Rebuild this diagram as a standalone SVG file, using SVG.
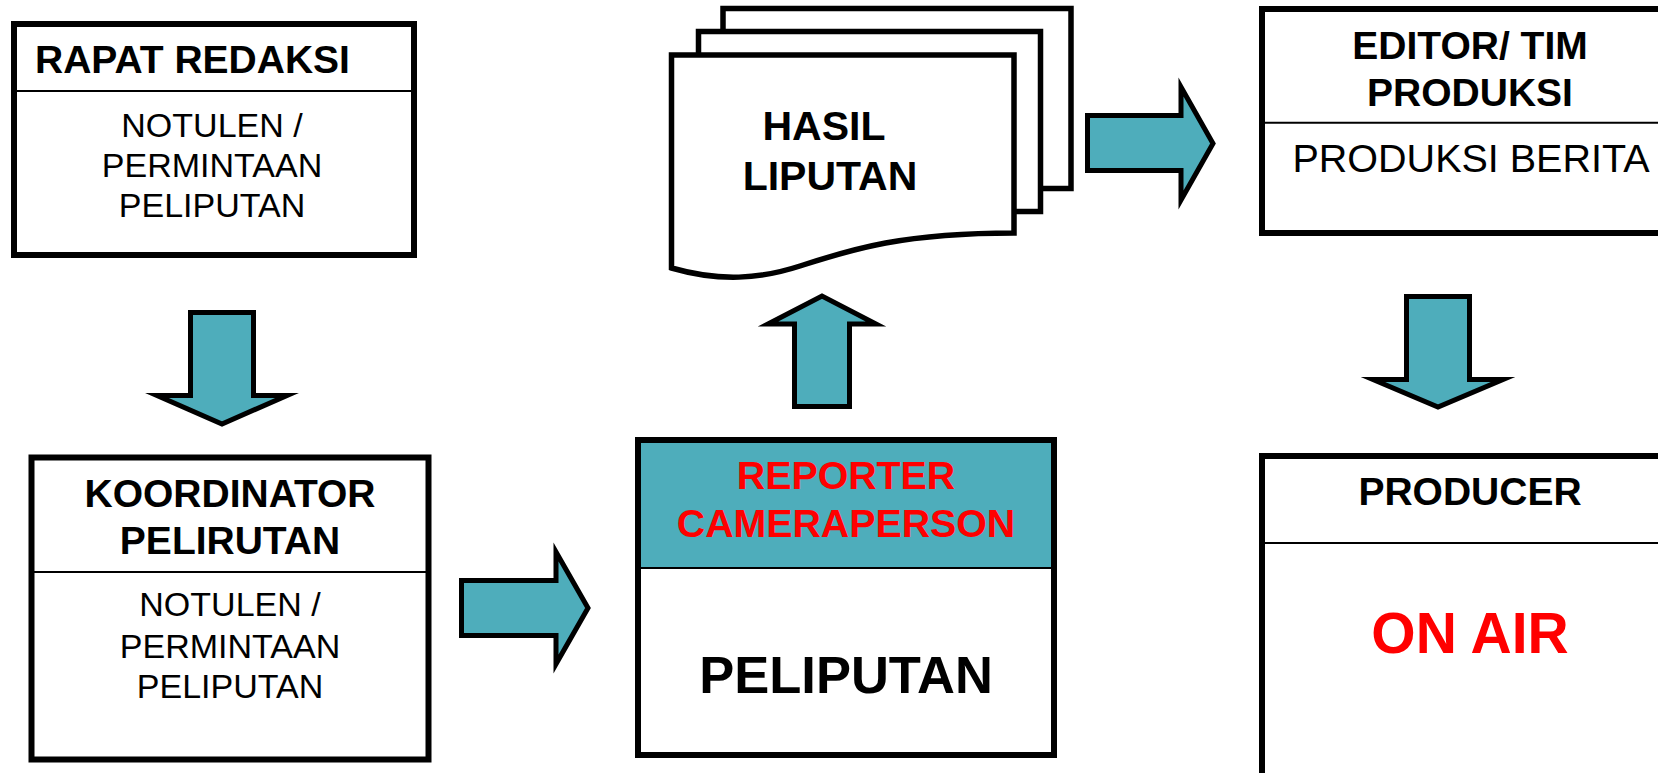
<svg xmlns="http://www.w3.org/2000/svg" width="1658" height="773" viewBox="0 0 1658 773">
<style>
.box{fill:#fff;stroke:#000;stroke-width:6}
.div{stroke:#000;stroke-width:2}
.arrow{fill:#4EADBB;stroke:#000;stroke-width:5;stroke-miterlimit:10}
.doc{fill:#fff;stroke:#000;stroke-width:5.5;stroke-linejoin:miter}
.b{font-family:"Liberation Sans",Arial,sans-serif;font-weight:bold;fill:#000}
.r{font-family:"Liberation Sans",Arial,sans-serif;fill:#000}
.red{fill:#FF0000}
</style>
<rect width="1658" height="773" fill="#fff"/>
<g id="connectors">
<path class="arrow" d="M190.5,312.5 H253.5 V395.5 H287 L222,424 L157,395.5 H190.5 Z"/>
<path class="arrow" d="M461.5,580.5 H556 V552 L588,608 L556,664 V635.5 H461.5 Z"/>
<path class="arrow" d="M794.5,406.5 V324 H768 L822,296 L876,324 H849.5 V406.5 Z"/>
<path class="arrow" d="M1087.5,115.5 H1181 V87 L1213,143.5 L1181,200 V170.5 H1087.5 Z"/>
<path class="arrow" d="M1406.5,296.5 H1469.5 V379.5 H1503 L1438,407 L1373,379.5 H1406.5 Z"/>
</g>
<g id="rapat-redaksi">
<rect class="box" x="14" y="24" width="400" height="231"/>
<line class="div" x1="17" y1="91" x2="411" y2="91"/>
<text class="b" x="35" y="73" font-size="39">RAPAT REDAKSI</text>
<text class="r" font-size="34" text-anchor="middle"><tspan x="212" y="137">NOTULEN /</tspan><tspan x="212" y="177">PERMINTAAN</tspan><tspan x="212" y="217">PELIPUTAN</tspan></text>
</g>
<g id="koordinator">
<rect class="box" x="31.5" y="457.5" width="397" height="302"/>
<line class="div" x1="34" y1="572" x2="426" y2="572"/>
<text class="b" font-size="39" text-anchor="middle"><tspan x="230" y="507">KOORDINATOR</tspan><tspan x="230" y="554">PELIRUTAN</tspan></text>
<text class="r" font-size="34" text-anchor="middle"><tspan x="230" y="616">NOTULEN /</tspan><tspan x="230" y="658">PERMINTAAN</tspan><tspan x="230" y="698">PELIPUTAN</tspan></text>
</g>
<g id="reporter">
<rect class="box" x="638" y="440" width="416" height="315"/>
<rect x="641" y="443" width="410" height="125" fill="#4EADBB"/>
<line class="div" x1="641" y1="568" x2="1051" y2="568"/>
<text class="b red" font-size="39.3" text-anchor="middle"><tspan x="846" y="489">REPORTER</tspan><tspan x="846" y="537">CAMERAPERSON</tspan></text>
<text class="b" x="846" y="693" font-size="52.5" text-anchor="middle">PELIPUTAN</text>
</g>
<g id="hasil-liputan">
<rect class="doc" x="723" y="8.5" width="348" height="180"/>
<rect class="doc" x="698.5" y="31.5" width="342" height="180"/>
<path class="doc" d="M671.5,55 H1014 V233 C900,233 850,250 800,266 C760,279 720,282 671.5,268 Z"/>
<text class="b" x="824" y="140" font-size="41" text-anchor="middle">HASIL</text>
<text class="b" x="830" y="190" font-size="41" text-anchor="middle">LIPUTAN</text>
</g>
<g id="editor">
<rect class="box" x="1262" y="9" width="450" height="224"/>
<line class="div" x1="1265" y1="122.7" x2="1658" y2="122.7"/>
<text class="b" font-size="39" text-anchor="middle"><tspan x="1470" y="59">EDITOR/ TIM</tspan><tspan x="1470" y="106">PRODUKSI</tspan></text>
<text class="r" x="1471" y="172" font-size="39.5" text-anchor="middle">PRODUKSI BERITA</text>
</g>
<g id="producer">
<rect class="box" x="1262" y="456" width="450" height="400"/>
<line class="div" x1="1265" y1="543" x2="1658" y2="543"/>
<text class="b" x="1470" y="505" font-size="39" text-anchor="middle">PRODUCER</text>
<text class="b red" x="1470" y="653" font-size="57" text-anchor="middle">ON AIR</text>
</g>
</svg>
